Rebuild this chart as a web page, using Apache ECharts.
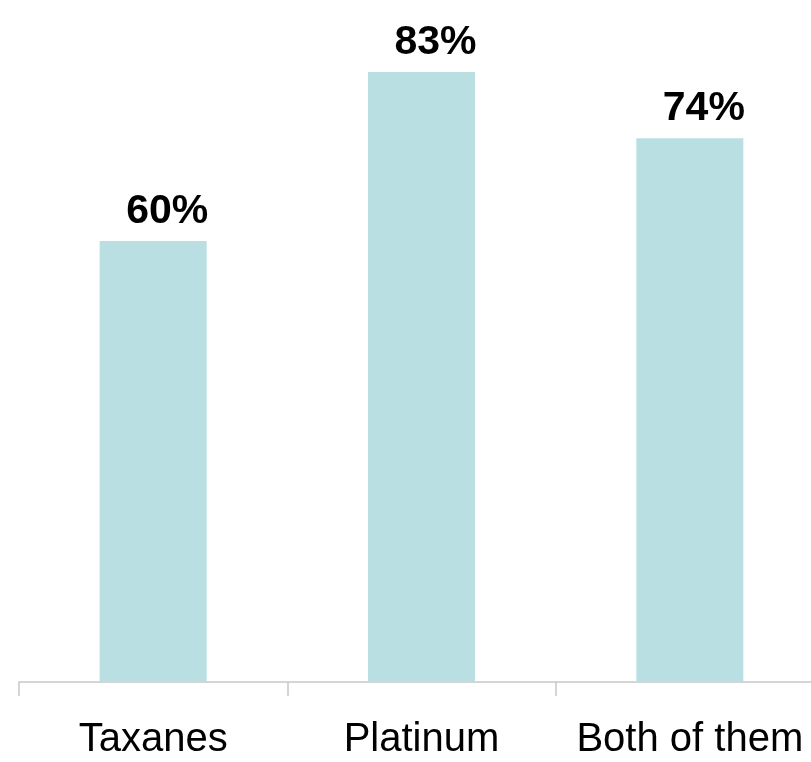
<!DOCTYPE html>
<html>
<head>
<meta charset="utf-8">
<script src="https://cdn.jsdelivr.net/npm/echarts@6/dist/echarts.min.js"></script>
<style>
html,body{margin:0;padding:0;background:#ffffff;}
#chart{width:811px;height:762px;}
</style>
</head>
<body>
<div id="chart"></div>
<script>
const categories = ['Taxanes', 'Platinum', 'Both of them'];
const values = [60, 83, 74];

const chart = echarts.init(document.getElementById('chart'));
chart.setOption({
  animation: false,
  backgroundColor: '#ffffff',
  grid: { left: 19, width: 805, top: 0, bottom: 80, containLabel: false, outerBoundsMode: 'none' },
  xAxis: {
    type: 'category',
    data: categories,
    axisLine: { lineStyle: { color: '#c8c8c8', width: 1.5 } },
    axisTick: { show: true, interval: 0, length: 14, lineStyle: { color: '#c8c8c8', width: 1.5 } },
    axisLabel: { interval: 0, color: '#000000', fontSize: 40, fontFamily: 'Liberation Sans, Arial, sans-serif', margin: 38 }
  },
  yAxis: {
    type: 'value',
    min: 0,
    max: 92.8,
    show: false,
    splitLine: { show: false }
  },
  series: [{
    type: 'bar',
    data: values,
    barWidth: 107,
    itemStyle: { color: '#b9dfe2' },
    label: {
      show: true,
      position: 'top',
      distance: 9,
      offset: [14, 0],
      formatter: '{c}%',
      color: '#000000',
      fontSize: 41,
      fontWeight: 'bold',
      fontFamily: 'Liberation Sans, Arial, sans-serif'
    }
  }]
});
</script>
</body>
</html>
